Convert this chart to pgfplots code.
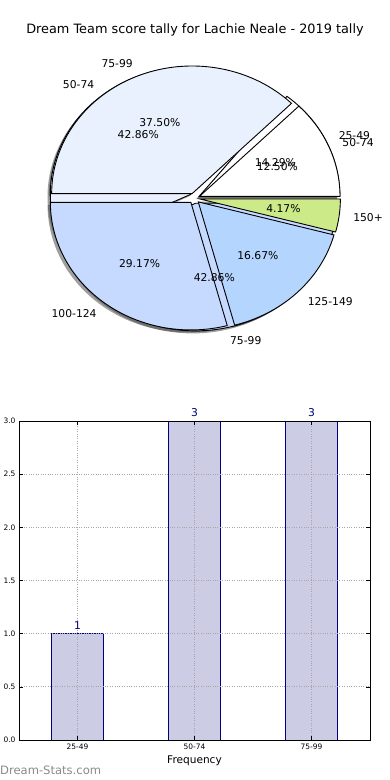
\documentclass[border=0pt]{standalone}
\usepackage{pgfplots}
\pgfplotsset{compat=1.18}
\usepackage{pgfplotstable}
\usepackage{fontspec}
\setmainfont{DejaVu Sans}

\colorlet{pcol0}{white}
\definecolor{pcol1}{HTML}{EAF1FE}
\definecolor{pcol2}{HTML}{C6D9FE}
\definecolor{pcol3}{HTML}{B4D5FE}
\definecolor{pcol4}{HTML}{CDEA88}
\definecolor{barfill}{HTML}{CCCCE4}
\definecolor{baredge}{HTML}{000080}
\definecolor{wmark}{HTML}{8A8A8A}

% career tally (drawn on top)
\pgfplotstableread{
label value
50-74 3
75-99 9
100-124 7
125-149 4
150+ 1
}\careerTable
% 2019 tally
\pgfplotstableread{
label value
25-49 1
50-74 3
75-99 3
}\seasonTable
% bar chart
\pgfplotstableread{
x y
0 1
1 3
2 3
}\barTable

\def\pieExplode{0.04}
\newcommand{\preppie}[2]{%
  \pgfplotstablegetrowsof{#1}%
  \pgfmathtruncatemacro\pieLast{\pgfplotsretval-1}%
  \expandafter\xdef\csname #2Last\endcsname{\pieLast}%
  \xdef\pieTot{0}%
  \foreach \pieI in {0,...,\pieLast}{%
    \pgfplotstablegetelem{\pieI}{value}\of{#1}%
    \pgfmathsetmacro\pieTmp{\pieTot+\pgfplotsretval}%
    \xdef\pieTot{\pieTmp}%
  }%
  \xdef\pieCum{0}%
  \foreach \pieI in {0,...,\pieLast}{%
    \pgfplotstablegetelem{\pieI}{value}\of{#1}%
    \pgfmathsetmacro\pieVal{\pgfplotsretval}%
    \pgfmathsetmacro\pieS{360*\pieCum/\pieTot}%
    \pgfmathsetmacro\pieE{360*(\pieCum+\pieVal)/\pieTot}%
    \pgfmathsetmacro\pieM{(\pieS+\pieE)/2}%
    \pgfmathsetmacro\pieP{100*\pieVal/\pieTot}%
    \pgfmathsetmacro\pieX{\pieExplode*cos(\pieM)}%
    \pgfmathsetmacro\pieY{\pieExplode*sin(\pieM)}%
    \pgfmathsetmacro\pieLX{\pieX+1.1*cos(\pieM)}%
    \pgfmathsetmacro\pieLY{\pieY+1.1*sin(\pieM)}%
    \pgfmathsetmacro\piePX{\pieX+0.6*cos(\pieM)}%
    \pgfmathsetmacro\piePY{\pieY+0.6*sin(\pieM)}%
    \pgfmathtruncatemacro\pieSide{cos(\pieM)>0}%
    \ifnum\pieSide=1 \def\pieAnc{west}\else\def\pieAnc{east}\fi
    \expandafter\xdef\csname #2S\pieI\endcsname{\pieS}%
    \expandafter\xdef\csname #2E\pieI\endcsname{\pieE}%
    \expandafter\xdef\csname #2P\pieI\endcsname{\pieP}%
    \expandafter\xdef\csname #2X\pieI\endcsname{\pieX}%
    \expandafter\xdef\csname #2Y\pieI\endcsname{\pieY}%
    \expandafter\xdef\csname #2LX\pieI\endcsname{\pieLX}%
    \expandafter\xdef\csname #2LY\pieI\endcsname{\pieLY}%
    \expandafter\xdef\csname #2PX\pieI\endcsname{\piePX}%
    \expandafter\xdef\csname #2PY\pieI\endcsname{\piePY}%
    \expandafter\xdef\csname #2Anc\pieI\endcsname{\pieAnc}%
    \pgfplotstablegetelem{\pieI}{label}\of{#1}%
    \expandafter\xdef\csname #2Lab\pieI\endcsname{\pgfplotsretval}%
    \pgfmathsetmacro\pieTmp{\pieCum+\pieVal}%
    \xdef\pieCum{\pieTmp}%
  }%
}
\preppie{\careerTable}{A}
\preppie{\seasonTable}{B}

\newcommand{\wedgeat}[5]{%
  \pgfmathsetmacro\wcx{#1}\pgfmathsetmacro\wcy{#2}%
  \edef\wedgecmd{\noexpand\path[#5] (axis cs:\wcx,\wcy) -- plot[domain=#3:#4, samples=80, variable=\noexpand\t] ({\wcx+cos(\noexpand\t)},{\wcy+sin(\noexpand\t)}) -- cycle;}%
  \wedgecmd}
\newcommand{\lblfont}{\fontsize{10.8}{12}\selectfont}
\newcommand{\pielabels}[1]{%
  \pgfplotsinvokeforeach{0,...,\csname #1Last\endcsname}{%
    \edef\labcmd{\noexpand\node[anchor=\csname #1Anc##1\endcsname, inner sep=0pt, font=\noexpand\lblfont] at (axis cs:\csname #1LX##1\endcsname,\csname #1LY##1\endcsname) {\csname #1Lab##1\endcsname};}\labcmd
    \edef\pctcmd{\noexpand\node[anchor=center, inner sep=0pt, font=\noexpand\lblfont] at (axis cs:\csname #1PX##1\endcsname,\csname #1PY##1\endcsname) {\noexpand\pgfmathprintnumber[fixed,fixed zerofill,precision=2,assume math mode=true]{\csname #1P##1\endcsname}\noexpand\%};}\pctcmd
  }%
}
\newcommand{\pieshadow}[1]{%
  \pgfplotsinvokeforeach{0,...,\csname #1Last\endcsname}{%
    \wedgeat{\csname #1X##1\endcsname-0.02}{\csname #1Y##1\endcsname-0.02}{\csname #1S##1\endcsname}{\csname #1E##1\endcsname}{fill=black!75, fill opacity=0.5, draw=none}%
  }%
}
\newcommand{\piewedges}[1]{%
  \pgfplotsinvokeforeach{0,...,\csname #1Last\endcsname}{%
    \wedgeat{\csname #1X##1\endcsname}{\csname #1Y##1\endcsname}{\csname #1S##1\endcsname}{\csname #1E##1\endcsname}{fill=pcol##1, draw=black, line width=0.9bp, line join=miter}%
  }%
}

\begin{document}
\begin{tikzpicture}
\path[use as bounding box] (0bp,0bp) rectangle (390bp,-780bp);
\node[font=\fontsize{12.9}{14}\selectfont, anchor=center] at (195bp,-30bp) {Dream Team score tally for Lachie Neale - 2019 tally};

\begin{axis}[
  at={(194.3bp,-198.3bp)}, anchor=center,
  scale only axis, width=379.35bp, height=344.52bp,
  xmin=-1.35, xmax=1.35, ymin=-1.35, ymax=1.35,
  hide axis, clip=false,
]
\pieshadow{B}
\pieshadow{A}
\piewedges{B}
\piewedges{A}
\pielabels{B}
\pielabels{A}
\end{axis}

\begin{axis}[
  at={(19bp,-740bp)}, anchor=south west,
  scale only axis, width=351bp, height=319bp,
  xmin=-0.5, xmax=2.5, ymin=0, ymax=3,
  ybar, bar width=0.45,
  xtick={0,1,2}, xticklabels={25-49,50-74,75-99},
  ytick={0,0.5,...,3},
  yticklabel style={/pgf/number format/fixed, /pgf/number format/fixed zerofill, /pgf/number format/precision=1},
  /pgf/number format/assume math mode=true,
  tick label style={font=\fontsize{7.5}{8}\selectfont},
  grid=major, major grid style={dotted, line width=0.8bp, gray!70},
  tick align=inside, tick pos=both, major tick length=4bp,
  tick style={black, line width=0.6bp},
  axis line style={line width=0.9bp},
  axis on top,
  xlabel={Frequency}, xlabel style={font=\fontsize{10.6}{12}\selectfont, yshift=0bp},
  clip=false,
  nodes near coords,
  nodes near coords style={text=baredge, font=\fontsize{10.8}{12}\selectfont, anchor=south, inner sep=0pt, yshift=3.5bp},
]
\addplot[fill=barfill, draw=baredge, line width=0.8bp] table[x=x, y=y] {\barTable};
\end{axis}

\node[anchor=west, inner sep=0pt, text=wmark, font=\fontsize{11.6}{13}\selectfont] at (0bp,-770bp) {Dream-Stats.com};
\end{tikzpicture}
\end{document}
